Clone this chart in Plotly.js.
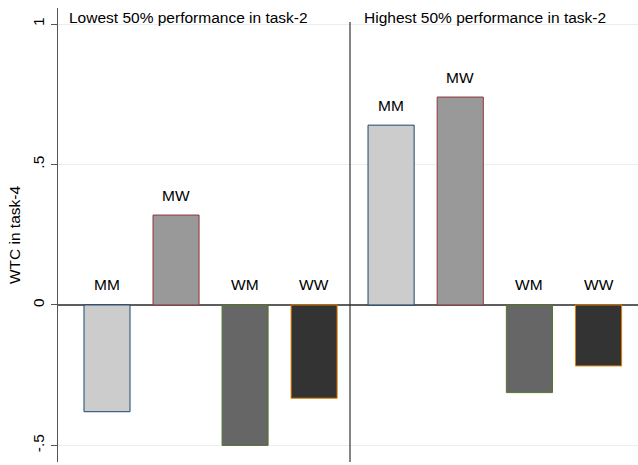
<!DOCTYPE html>
<html>
<head>
<meta charset="utf-8">
<script src="https://cdn.plot.ly/plotly-3.0.1.min.js"></script>
<style>html,body{margin:0;padding:0;background:#fff;}#chart{width:638px;height:465px;}</style>
</head>
<body>
<div id="chart"></div>
<script>
const categories = ['MM', 'MW', 'WM', 'WW'];
const lowestValues = [-0.38, 0.32, -0.50, -0.332];
const highestValues = [0.64, 0.74, -0.312, -0.217];
const panelTitles = ['Lowest 50% performance in task-2', 'Highest 50% performance in task-2'];
const yTickVals = [-0.5, 0, 0.5, 1];
const yTickText = ['-.5', '0', '.5', '1'];
const yTitle = 'WTC in task-4';

const fills = ['#cccccc', '#999999', '#666666', '#333333'];
const outlines = ['#1a476f', '#90353b', '#55752f', '#e37e00'];
const FONT = 'Liberation Sans, Arial, Helvetica, sans-serif';
const FS = 15.5;

function barTrace(vals, xa) {
  return {
    type: 'bar', x: categories, y: vals, xaxis: xa, yaxis: 'y',
    width: 0.667,
    marker: {color: fills, line: {color: outlines, width: 1}},
    hoverinfo: 'none', showlegend: false
  };
}

const annotations = [];
[[lowestValues, 'x'], [highestValues, 'x2']].forEach(([vals, xr]) => {
  categories.forEach((c, i) => {
    annotations.push({
      x: c, y: Math.max(vals[i], 0), xref: xr, yref: 'y',
      text: c, showarrow: false, yanchor: 'middle', yshift: 20,
      font: {family: FONT, size: FS, color: '#000'}
    });
  });
});
annotations.push({
  x: 67, y: 17, xref: 'paper', yref: 'paper', text: panelTitles[0],
  showarrow: false, xanchor: 'left', yanchor: 'middle',
  font: {family: FONT, size: FS, color: '#000'}
});
annotations.push({
  x: 362, y: 17, xref: 'paper', yref: 'paper', text: panelTitles[1],
  showarrow: false, xanchor: 'left', yanchor: 'middle',
  font: {family: FONT, size: FS, color: '#000'}
});

const L = 58, R = 0, T = 8, B = 3, W = 638, H = 465;
const pw = W - L - R, ph = H - T - B;
annotations.slice(-2).forEach(a => {
  a.x = (a.x - L) / pw;
  a.y = (H - B - a.y) / ph;
});

const splitFrac = (350 - L) / pw;

const layout = {
  width: W, height: H,
  margin: {l: L, r: R, t: T, b: B, pad: 0},
  paper_bgcolor: '#ffffff', plot_bgcolor: '#ffffff',
  font: {family: FONT, size: FS, color: '#000'},
  xaxis: {domain: [0, splitFrac], range: [-0.71, 3.52], showticklabels: false,
          ticks: '', showgrid: false, zeroline: false, showline: false, fixedrange: true},
  xaxis2: {domain: [splitFrac, 1], range: [-0.594, 3.57], anchor: 'y', showticklabels: false,
           ticks: '', showgrid: false, zeroline: false, showline: false, fixedrange: true},
  yaxis: {range: [-0.559, 1.057], tickvals: yTickVals, ticktext: yTickText,
          tickangle: -90, ticks: 'outside', ticklen: 6, tickcolor: '#555', tickwidth: 1,
          showline: true, linecolor: '#555', linewidth: 1.5,
          showgrid: true, gridcolor: '#e8eff1', gridwidth: 1,
          zeroline: true, zerolinecolor: '#5e5e5e', zerolinewidth: 1.5,
          tickfont: {family: FONT, size: FS, color: '#000'},
          title: {text: yTitle, standoff: 6, font: {family: FONT, size: FS, color: '#000'}},
          fixedrange: true},
  shapes: [{
    type: 'line', xref: 'x2 domain', yref: 'paper', x0: 0, x1: 0,
    y0: 0, y1: (H - B - 22) / ph, line: {color: '#333', width: 1.2}
  }],
  annotations: annotations,
  bargap: 0.3
};

Plotly.newPlot('chart', [barTrace(lowestValues, 'x'), barTrace(highestValues, 'x2')], layout,
  {displayModeBar: false, staticPlot: true});
</script>
</body>
</html>
